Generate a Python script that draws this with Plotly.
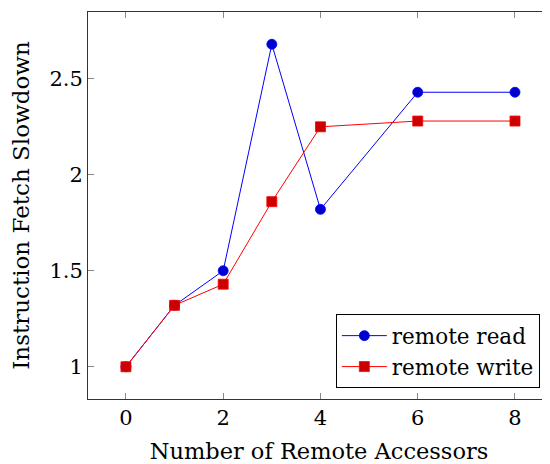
import plotly.graph_objects as go

accessors = [0, 1, 2, 3, 4, 6, 8]
remote_read = [1.0, 1.32, 1.5, 2.68, 1.82, 2.43, 2.43]
remote_write = [1.0, 1.32, 1.43, 1.86, 2.25, 2.28, 2.28]
x_ticks = [0, 2, 4, 6, 8]
y_ticks = [1, 1.5, 2, 2.5]
y_tick_labels = ["1", "1.5", "2", "2.5"]

FONT = "DejaVu Serif"
XR = [-0.78, 8.72]
YR = [0.832, 2.848]

fig = go.Figure()
fig.add_trace(go.Scatter(
    x=accessors, y=remote_read, mode="lines+markers", name="remote read",
    line=dict(color="#0000ff", width=1),
    marker=dict(symbol="circle", size=10, color="#0000cc", line=dict(color="#0000ff", width=0.8)),
))
fig.add_trace(go.Scatter(
    x=accessors, y=remote_write, mode="lines+markers", name="remote write",
    line=dict(color="#ff0000", width=1),
    marker=dict(symbol="square", size=10, color="#cc0000", line=dict(color="#ff0000", width=0.8)),
))
fig.add_trace(go.Scatter(x=[XR[0]], y=[YR[0]], yaxis="y2", mode="markers",
                         marker=dict(opacity=0), showlegend=False, hoverinfo="skip"))

fig.update_layout(
    width=542, height=456,
    margin=dict(l=80, r=0, t=4, b=65),
    paper_bgcolor="white", plot_bgcolor="white",
    font=dict(family=FONT, size=22, color="black"),
    xaxis=dict(
        range=XR, tickvals=x_ticks, ticks="inside", ticklen=6, tickcolor="#888",
        tickwidth=1, showline=True, linecolor="#333", linewidth=1, mirror="ticks",
        showgrid=False, zeroline=False, automargin=False,
        title=dict(text="Number of Remote Accessors", font=dict(size=22.5)),
        tickfont=dict(size=21),
    ),
    yaxis=dict(
        range=YR, tickvals=y_ticks, ticktext=y_tick_labels, ticks="inside", ticklen=6,
        tickcolor="#888", tickwidth=1, showline=True, linecolor="#333", linewidth=1,
        showgrid=False, zeroline=False, automargin=False,
        title=dict(text="Instruction Fetch Slowdown", font=dict(size=23)),
        tickfont=dict(size=21),
    ),
    yaxis2=dict(
        range=YR, tickvals=y_ticks, overlaying="y", side="right", ticks="inside",
        ticklen=6, tickcolor="#888", tickwidth=1, showline=False, showgrid=False,
        zeroline=False, showticklabels=False, automargin=False,
    ),
    legend=dict(
        x=0.978, y=0.028, xanchor="right", yanchor="bottom",
        bordercolor="black", borderwidth=1, bgcolor="white",
        font=dict(family=FONT, size=21.5), tracegroupgap=0, itemwidth=45,
    ),
    showlegend=True,
)

fig.write_html("out.html")
